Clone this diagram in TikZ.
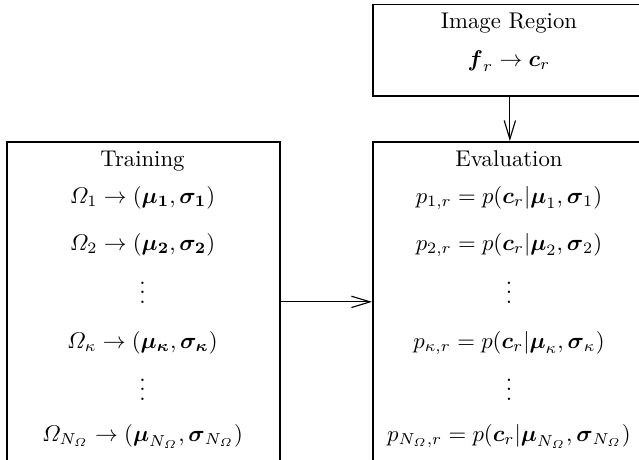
\documentclass[tikz,border=0pt]{standalone}
\usepackage{amsmath}
\usetikzlibrary{arrows.meta}
\begin{document}
\begin{tikzpicture}[x=0.44pt,y=-0.44pt,
  box/.style={draw, line width=0.75pt, rectangle, inner sep=0pt, anchor=north west},
  conn/.style={-{Straight Barb[length=8.2pt,width=5pt]}, line width=0.5pt},
  lbl/.style={inner sep=0pt, anchor=base}]
\useasboundingbox (0,0) rectangle (639,459);
\clip (0,0) rectangle (639,459);
% boxes
\node[box, minimum width=273*0.44pt, minimum height=320*0.44pt] (train) at (6,141) {};
\node[box, minimum width=274*0.44pt, minimum height=320*0.44pt] (eval) at (372,141) {};
\node[box, minimum width=274*0.44pt, minimum height=91.5*0.44pt] (img) at (372,3.5) {};
% image region
\node[lbl] (imgt) at (509,28) {Image Region};
\node[lbl] (imgf) at (509,66) {$\boldsymbol{f}_r \rightarrow \boldsymbol{c}_r$};
% training
\node[lbl] (trt) at (142.5,166) {Training};
\node[lbl] (tr1) at (142.5,203) {$\varOmega_1 \rightarrow (\boldsymbol{\mu_1},\boldsymbol{\sigma_1})$};
\node[lbl] (tr2) at (142.5,250) {$\varOmega_2 \rightarrow (\boldsymbol{\mu_2},\boldsymbol{\sigma_2})$};
\node[lbl] (trd1) at (142.5,303) {$\vdots$};
\node[lbl] (trk) at (142.5,348) {$\varOmega_\kappa \rightarrow (\boldsymbol{\mu_\kappa},\boldsymbol{\sigma_\kappa})$};
\node[lbl] (trd2) at (142.5,400) {$\vdots$};
\node[lbl] (trn) at (142.5,441) {$\varOmega_{N_\varOmega} \rightarrow (\boldsymbol{\mu}_{N_\varOmega},\boldsymbol{\sigma}_{N_\varOmega})$};
% evaluation
\node[lbl] (evt) at (509,166) {Evaluation};
\node[lbl] (ev1) at (509,203) {$p_{1,r} = p(\boldsymbol{c}_r|\boldsymbol{\mu}_1,\boldsymbol{\sigma}_1)$};
\node[lbl] (ev2) at (509,250) {$p_{2,r} = p(\boldsymbol{c}_r|\boldsymbol{\mu}_2,\boldsymbol{\sigma}_2)$};
\node[lbl] (evd1) at (509,303) {$\vdots$};
\node[lbl] (evk) at (509,348) {$p_{\kappa,r} = p(\boldsymbol{c}_r|\boldsymbol{\mu}_\kappa,\boldsymbol{\sigma}_\kappa)$};
\node[lbl] (evd2) at (509,400) {$\vdots$};
\node[lbl] (evn) at (509,441) {$p_{N_\varOmega,r} = p(\boldsymbol{c}_r|\boldsymbol{\mu}_{N_\varOmega},\boldsymbol{\sigma}_{N_\varOmega})$};
% connectors
\draw[conn] (img.south) -- (eval.north);
\draw[conn] (train.east) -- (eval.west);
\end{tikzpicture}
\end{document}
